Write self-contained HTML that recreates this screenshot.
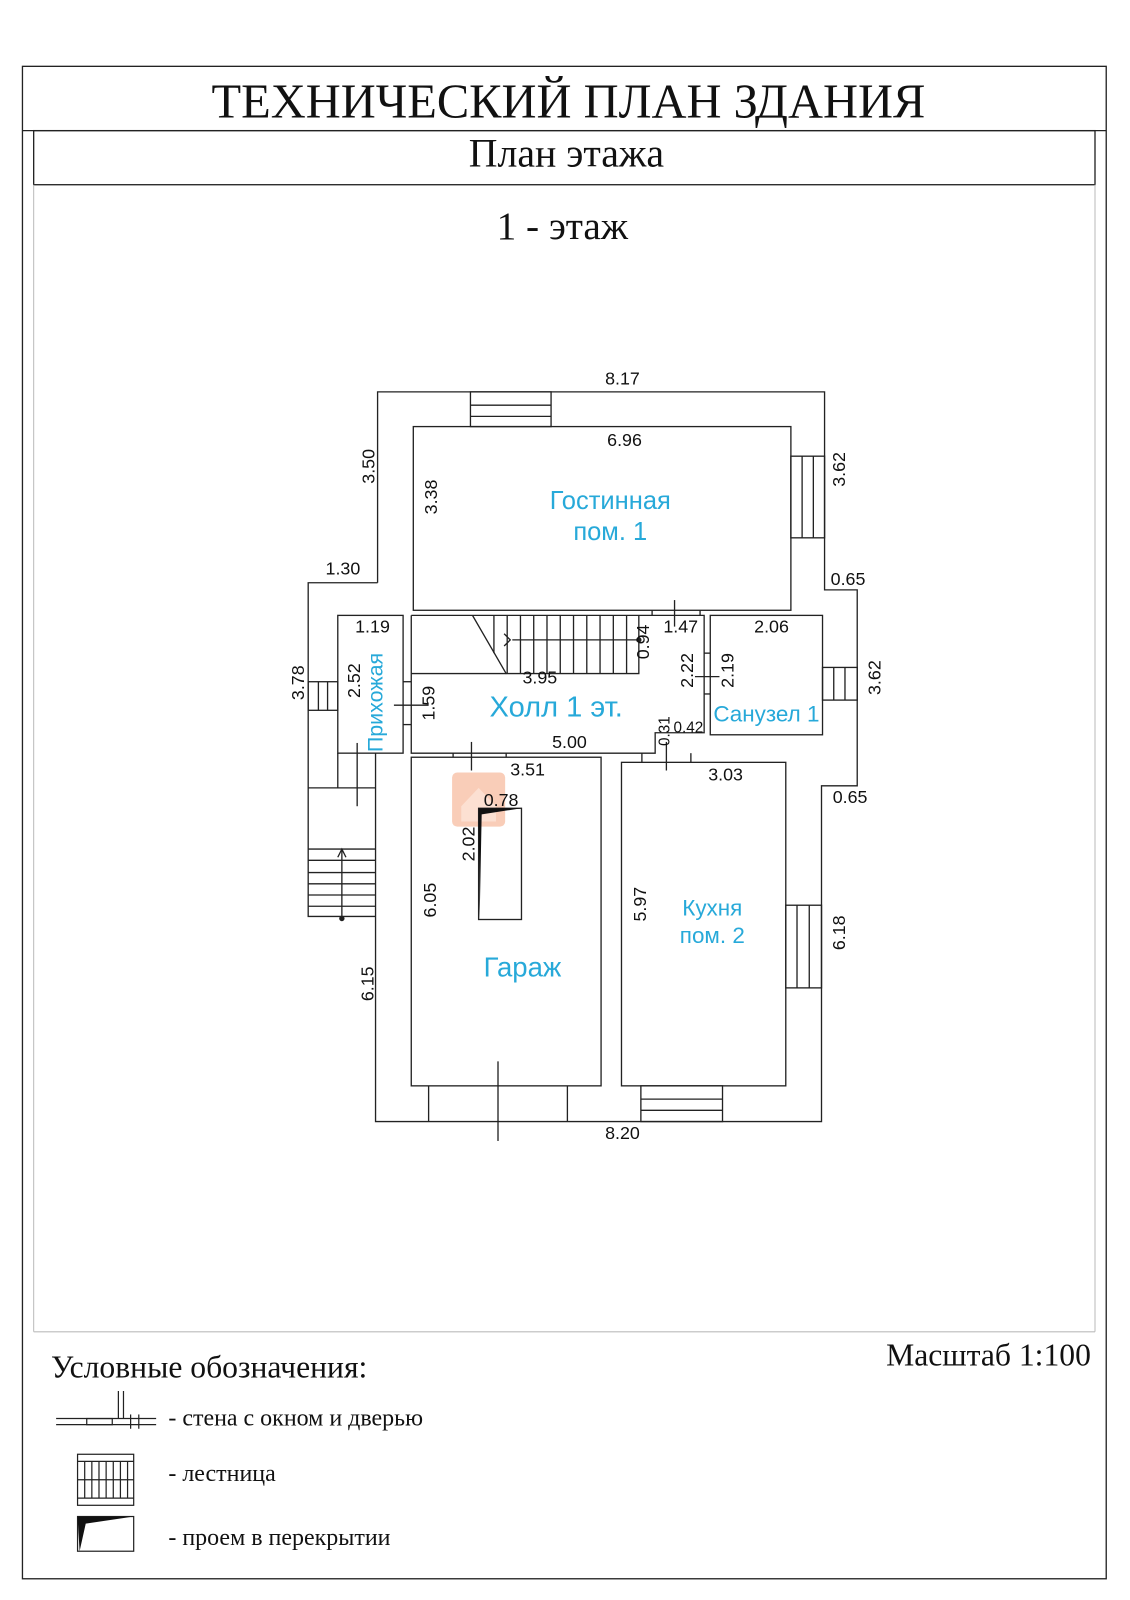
<!DOCTYPE html>
<html><head><meta charset="utf-8"><style>
html,body{margin:0;padding:0;background:#fff;}
svg{display:block;}
.s{font-family:"Liberation Serif","DejaVu Serif",serif;fill:#111;}
.d{font-family:"Liberation Sans","DejaVu Sans",sans-serif;font-size:17.5px;fill:#111;}
.r{font-family:"Liberation Sans","DejaVu Sans",sans-serif;fill:#27a9d9;}
</style></head><body>
<svg width="1130" height="1600" viewBox="0 0 1107.3 1567.8" preserveAspectRatio="none" xmlns="http://www.w3.org/2000/svg">
<g fill="none" stroke="#222" stroke-width="1.3">
<rect x="22" y="65" width="1062" height="1482"/>
<line x1="22" y1="128" x2="1084" y2="128"/>
<rect x="33" y="128" width="1040" height="53"/>
</g>
<g fill="none" stroke="#bbb" stroke-width="1">
<line x1="33" y1="181" x2="33" y2="1305"/><line x1="1073" y1="181" x2="1073" y2="1305"/>
<line x1="33" y1="1305" x2="1073" y2="1305"/>
</g>
<text class="s" x="557" y="115" font-size="47.5" text-anchor="middle">ТЕХНИЧЕСКИЙ ПЛАН ЗДАНИЯ</text>
<text class="s" x="555" y="163" font-size="39" text-anchor="middle">План этажа</text>
<text class="s" x="551" y="234" font-size="38.5" text-anchor="middle">1 - этаж</text>

<rect x="443" y="757" width="52" height="53" rx="5" fill="#f6b89a" opacity="0.7"/>
<path d="M452 790 L469 772 L486 790 L486 805 L452 805 Z" fill="#fde5d8" opacity="0.8"/>

<g fill="none" stroke="#222" stroke-width="1.3">
<polyline points="370,571 370,384 808,384 808,578 840,578 840,770 805,770 805,1099 368,1099 368,898"/>
<polyline points="370,571 302,571 302,898 368,898"/>
<line x1="302" y1="772" x2="368" y2="772"/>
<line x1="368" y1="738" x2="368" y2="898"/>
<rect x="461" y="384" width="79" height="34"/>
<line x1="461" y1="397" x2="540" y2="397"/><line x1="461" y1="408" x2="540" y2="408"/>
<rect x="405" y="418" width="370" height="180"/>
<rect x="775" y="447" width="33" height="80"/>
<line x1="786" y1="447" x2="786" y2="527"/><line x1="797" y1="447" x2="797" y2="527"/>
<polyline points="403,603 690,603 690,718 642,718 642,738 403,738 403,603"/>
<line x1="639" y1="598" x2="639" y2="603"/><line x1="686" y1="598" x2="686" y2="603"/>
<line x1="661" y1="588" x2="661" y2="614"/>
<polyline points="463,603 496,660 626,660 626,603"/>
<line x1="403" y1="660" x2="496" y2="660"/>
<line x1="502" y1="627" x2="626" y2="627"/>
<polyline points="494,621 500,627 494,633"/>
<circle cx="626" cy="627" r="2" fill="#222"/>
<g>
<line x1="484" y1="603" x2="484" y2="640"/><line x1="497" y1="603" x2="497" y2="660"/>
<line x1="510" y1="603" x2="510" y2="660"/><line x1="523" y1="603" x2="523" y2="660"/>
<line x1="536" y1="603" x2="536" y2="660"/><line x1="549" y1="603" x2="549" y2="660"/>
<line x1="562" y1="603" x2="562" y2="660"/><line x1="575" y1="603" x2="575" y2="660"/>
<line x1="588" y1="603" x2="588" y2="660"/><line x1="601" y1="603" x2="601" y2="660"/>
<line x1="614" y1="603" x2="614" y2="660"/>
</g>
<line x1="395" y1="668" x2="403" y2="668"/><line x1="395" y1="710" x2="403" y2="710"/>
<line x1="386" y1="691" x2="420" y2="691"/>
<line x1="690" y1="640" x2="696" y2="640"/><line x1="690" y1="680" x2="696" y2="680"/>
<line x1="681" y1="663" x2="705" y2="663"/>
<rect x="331" y="603" width="64" height="135"/>
<rect x="302" y="668" width="29" height="28"/>
<line x1="312" y1="668" x2="312" y2="696"/><line x1="321" y1="668" x2="321" y2="696"/>
<line x1="331" y1="738" x2="331" y2="772"/><line x1="350" y1="728" x2="350" y2="790"/>
<rect x="696" y="603" width="110" height="117"/>
<rect x="806" y="654" width="34" height="32"/>
<line x1="817" y1="654" x2="817" y2="686"/><line x1="828" y1="654" x2="828" y2="686"/>
<line x1="302" y1="832" x2="368" y2="832"/><line x1="302" y1="843" x2="368" y2="843"/>
<line x1="302" y1="855" x2="368" y2="855"/><line x1="302" y1="866" x2="368" y2="866"/>
<line x1="302" y1="877" x2="368" y2="877"/><line x1="302" y1="888" x2="368" y2="888"/>
<line x1="335" y1="832" x2="335" y2="900"/>
<polyline points="331,840 335,832 339,840"/>
<circle cx="335" cy="900" r="2" fill="#222"/>
<rect x="403" y="742" width="186" height="322"/>
<line x1="444" y1="738" x2="444" y2="742"/><line x1="496" y1="738" x2="496" y2="742"/>
<line x1="462" y1="727" x2="462" y2="755"/>
<rect x="469" y="792" width="42" height="109"/>
<line x1="420" y1="1064" x2="420" y2="1099"/><line x1="556" y1="1064" x2="556" y2="1099"/>
<line x1="488" y1="1040" x2="488" y2="1118"/>
<rect x="609" y="747" width="161" height="317"/>
<line x1="629" y1="738" x2="629" y2="747"/><line x1="677" y1="738" x2="677" y2="747"/>
<line x1="653" y1="727" x2="653" y2="755"/>
<rect x="770" y="887" width="35" height="81"/>
<line x1="781" y1="887" x2="781" y2="968"/><line x1="793" y1="887" x2="793" y2="968"/>
<rect x="628" y="1064" width="80" height="35"/>
<line x1="628" y1="1077" x2="708" y2="1077"/><line x1="628" y1="1088" x2="708" y2="1088"/>
</g>
<path d="M469 792 L511 792 L472 798 L470 901 Z" fill="#111"/>

<g class="d">
<text x="610" y="377" text-anchor="middle">8.17</text>
<text x="612" y="437" text-anchor="middle">6.96</text>
<text x="319" y="563">1.30</text>
<text x="814" y="573">0.65</text>
<text x="816" y="787">0.65</text>
<text x="348" y="620">1.19</text>
<text x="739" y="620">2.06</text>
<text x="650" y="620">1.47</text>
<text x="512" y="670">3.95</text>
<text x="541" y="733">5.00</text>
<text x="660" y="718" font-size="15">0.42</text>
<text x="500" y="760">3.51</text>
<text x="694" y="765">3.03</text>
<text x="474" y="790">0.78</text>
<text x="610" y="1116" text-anchor="middle">8.20</text>
<text transform="translate(367,474) rotate(-90)">3.50</text>
<text transform="translate(428,504) rotate(-90)">3.38</text>
<text transform="translate(828,477) rotate(-90)">3.62</text>
<text transform="translate(298,686) rotate(-90)">3.78</text>
<text transform="translate(353,684) rotate(-90)">2.52</text>
<text transform="translate(426,706) rotate(-90)">1.59</text>
<text transform="translate(636,646) rotate(-90)">0.94</text>
<text transform="translate(679,674) rotate(-90)">2.22</text>
<text transform="translate(719,674) rotate(-90)">2.19</text>
<text transform="translate(863,681) rotate(-90)">3.62</text>
<text transform="translate(656,731) rotate(-90)" font-size="15">0.31</text>
<text transform="translate(465,844) rotate(-90)">2.02</text>
<text transform="translate(427,899) rotate(-90)">6.05</text>
<text transform="translate(633,903) rotate(-90)">5.97</text>
<text transform="translate(828,931) rotate(-90)">6.18</text>
<text transform="translate(366,981) rotate(-90)">6.15</text>
</g>
<g class="r">
<text x="598" y="499" font-size="25" text-anchor="middle">Гостинная</text>
<text x="598" y="529" font-size="25" text-anchor="middle">пом. 1</text>
<text x="545" y="702" font-size="28.5" text-anchor="middle">Холл 1 эт.</text>
<text x="751" y="707" font-size="22" text-anchor="middle">Санузел 1</text>
<text transform="translate(375,737) rotate(-90)" font-size="21">Прихожая</text>
<text x="698" y="897" font-size="22" text-anchor="middle">Кухня</text>
<text x="698" y="924" font-size="22" text-anchor="middle">пом. 2</text>
<text x="512" y="957" font-size="27" text-anchor="middle">Гараж</text>
</g>

<text class="s" x="1069" y="1338" font-size="31" text-anchor="end">Масштаб 1:100</text>
<text class="s" x="50" y="1350" font-size="31">Условные обозначения:</text>
<g fill="none" stroke="#222" stroke-width="1.2">
<line x1="55" y1="1390" x2="153" y2="1390"/><line x1="55" y1="1396" x2="153" y2="1396"/>
<rect x="85" y="1390" width="25" height="6"/>
<line x1="116" y1="1363" x2="116" y2="1390"/><line x1="121" y1="1363" x2="121" y2="1390"/>
<line x1="128" y1="1386" x2="128" y2="1400"/><line x1="136" y1="1386" x2="136" y2="1400"/>
<rect x="76" y="1425" width="55" height="50"/>
<line x1="76" y1="1432" x2="131" y2="1432"/><line x1="76" y1="1468" x2="131" y2="1468"/>
<line x1="83" y1="1432" x2="83" y2="1468"/><line x1="90" y1="1432" x2="90" y2="1468"/>
<line x1="97" y1="1432" x2="97" y2="1468"/><line x1="104" y1="1432" x2="104" y2="1468"/>
<line x1="111" y1="1432" x2="111" y2="1468"/><line x1="118" y1="1432" x2="118" y2="1468"/>
<line x1="125" y1="1432" x2="125" y2="1468"/>
<line x1="76" y1="1450" x2="131" y2="1450"/>
<rect x="76" y="1486" width="55" height="34"/>
</g>
<path d="M76 1486 L131 1486 L84 1493 L78 1520 Z" fill="#111"/>
<text class="s" x="165" y="1397" font-size="23.5">- стена с окном и дверью</text>
<text class="s" x="165" y="1451" font-size="23.5">- лестница</text>
<text class="s" x="165" y="1514" font-size="23.5">- проем в перекрытии</text>
</svg>
</body></html>
